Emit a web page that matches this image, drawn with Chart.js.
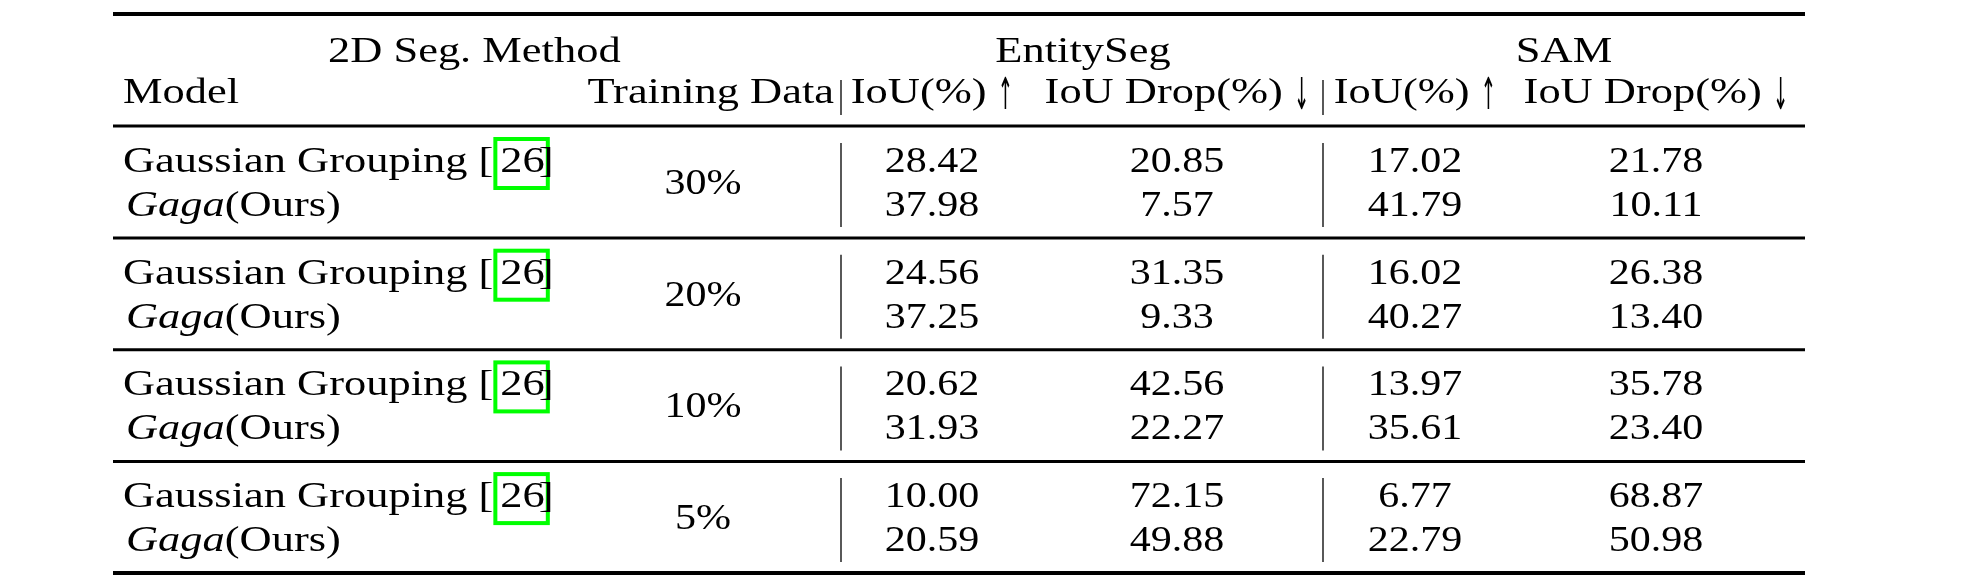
<!DOCTYPE html>
<html>
<head>
<meta charset="utf-8">
<script src="https://cdn.jsdelivr.net/npm/chart.js@4.4.1/dist/chart.umd.min.js"></script>
<style>
  html, body { margin: 0; padding: 0; background: #fff; }
  canvas { display: block; }
</style>
</head>
<body>
<canvas id="tabla" width="1983" height="586"></canvas>
<script>
// valores de la tabla
const trainingData = ['30%', '20%', '10%', '5%'];
const modelNames = ['Gaussian Grouping', 'Gaga'];
const citeRef = '26';
const groupHeaders = ['EntitySeg', 'SAM'];
const colHeaders = ['IoU(%) \u2191', 'IoU Drop(%) \u2193', 'IoU(%) \u2191', 'IoU Drop(%) \u2193'];
const entityIoU = [28.42, 37.98, 24.56, 37.25, 20.62, 31.93, 10.00, 20.59];
const entityDrop = [20.85, 7.57, 31.35, 9.33, 42.56, 22.27, 72.15, 49.88];
const samIoU = [17.02, 41.79, 16.02, 40.27, 13.97, 35.61, 6.77, 22.79];
const samDrop = [21.78, 10.11, 26.38, 13.40, 35.78, 23.40, 68.87, 50.98];

// disposicion (unidades del canvas)
const W = 1983, H = 586;
const ruleLeft = 113, ruleRight = 1805;
const modelX = 123;
const trainX = 703;
const colX = [932, 1177, 1415, 1656];
const sepX = [841, 1323];
const headY = [62, 103];
const firstRow = 172, groupStep = 111.7, rowStep = 44;
const rowY = i => firstRow + Math.floor(i / 2) * groupStep + (i % 2) * rowStep;

const SERIF = '"Liberation Serif", "Times New Roman", serif';
const ARROW_FONT = '"DejaVu Sans", sans-serif';
const FONT_SIZE = 35;
const TEXT_SX = 1.27;
const NUM_SX = 1.2;

// lineas horizontales (booktabs)
const rules = [{ y: 14, w: 4 }, { y: 126, w: 3 }];
for (let g = 0; g < trainingData.length; g++) {
    const last = g === trainingData.length - 1;
    rules.push({ y: rowY(g * 2 + 1) + 22, w: last ? 4 : 3 });
}

const datasets = [];

rules.forEach(r => {
    datasets.push({
        data: [{ x: ruleLeft, y: r.y }, { x: ruleRight, y: r.y }],
        showLine: true, borderColor: '#000', borderWidth: r.w, pointRadius: 0, clip: false
    });
});

// separadores verticales
sepX.forEach(x => {
    datasets.push({
        data: [{ x: x, y: headY[1] - 23 }, { x: x, y: headY[1] + 12 }],
        showLine: true, borderColor: '#000', borderWidth: 1.3, pointRadius: 0, clip: false
    });
    trainingData.forEach((_, g) => {
        datasets.push({
            data: [{ x: x, y: rowY(g * 2) - 29 }, { x: x, y: rowY(g * 2 + 1) + 11 }],
            showLine: true, borderColor: '#000', borderWidth: 1.3, pointRadius: 0, clip: false
        });
    });
});

// separa las flechas para dibujarlas con otra fuente
function splitArrows(text) {
    return text.split(/([\u2191\u2193])/).filter(s => s.length).map(s =>
        /[\u2191\u2193]/.test(s) ? { t: s, arrow: true } : { t: s });
}

// celdas de texto
function textSet(points, align, sx) {
    return { data: points, cellText: true, align: align, sx: sx, pointRadius: 0, showLine: false, clip: false };
}

datasets.push(textSet([{ x: 328, y: headY[0], parts: [{ t: '2D Seg. Method' }] }], 'left', TEXT_SX));
datasets.push(textSet([
    { x: 1083, y: headY[0], parts: [{ t: groupHeaders[0] }] },
    { x: 1564, y: headY[0], parts: [{ t: groupHeaders[1] }] }
], 'center', TEXT_SX));
datasets.push(textSet([{ x: modelX, y: headY[1], parts: [{ t: 'Model' }] }], 'left', TEXT_SX));
datasets.push(textSet([{ x: 834, y: headY[1], parts: [{ t: 'Training Data' }] }], 'right', TEXT_SX));
datasets.push(textSet(colHeaders.map((h, i) => ({ x: colX[i], y: headY[1], parts: splitArrows(h) })), 'center', TEXT_SX));

const modelCells = [];
trainingData.forEach((_, g) => {
    modelCells.push({ x: modelX, y: rowY(g * 2), parts: [{ t: modelNames[0] + ' [' }, { t: citeRef, box: true, gap: 7 }, { t: ']', gap: -6 }] });
    modelCells.push({ x: modelX + 3, y: rowY(g * 2 + 1), parts: [{ t: modelNames[1], italic: true }, { t: '(Ours)' }] });
});
datasets.push(textSet(modelCells, 'left', TEXT_SX));

datasets.push(textSet(trainingData.map((t, g) => ({ x: trainX, y: rowY(g * 2) + 22, parts: [{ t: t }] })), 'center', NUM_SX));

[entityIoU, entityDrop, samIoU, samDrop].forEach((serie, c) => {
    datasets.push(textSet(serie.map((v, i) => ({ x: colX[c], y: rowY(i), parts: [{ t: v.toFixed(2) }] })), 'center', NUM_SX));
});

// dibuja el texto de cada celda en la posicion que da la escala
function drawParts(ctx, x, y, parts, align, sx) {
    const fonts = parts.map(p => p.arrow ? '44px ' + ARROW_FONT : (p.italic ? 'italic ' : '') + FONT_SIZE + 'px ' + SERIF);
    const scales = parts.map(p => p.arrow ? 0.42 : sx);
    const widths = parts.map((p, i) => { ctx.font = fonts[i]; return ctx.measureText(p.t).width * scales[i]; });
    const total = widths.reduce((a, b) => a + b, 0) + parts.reduce((a, p) => a + (p.gap || 0), 0);
    let cx = align === 'left' ? x : align === 'right' ? x - total : x - total / 2;
    parts.forEach((p, i) => {
        cx += p.gap || 0;
        ctx.save();
        ctx.font = fonts[i];
        ctx.fillStyle = '#000';
        ctx.textAlign = 'left';
        ctx.textBaseline = 'alphabetic';
        ctx.translate(cx, y + (p.arrow ? 6 : 0));
        ctx.scale(scales[i], 1);
        ctx.fillText(p.t, 0, 0);
        ctx.restore();
        if (p.box) {
            ctx.save();
            ctx.strokeStyle = '#00ff00';
            ctx.lineWidth = 4;
            ctx.strokeRect(cx - 5, y - 33, widths[i] + 8, 49);
            ctx.restore();
        }
        cx += widths[i];
    });
}

const tablePlugin = {
    id: 'tableText',
    afterDatasetsDraw(chart) {
        const ctx = chart.ctx;
        chart.data.datasets.forEach((ds, di) => {
            if (!ds.cellText) return;
            const meta = chart.getDatasetMeta(di);
            meta.data.forEach((pt, i) => {
                drawParts(ctx, pt.x, pt.y, ds.data[i].parts, ds.align, ds.sx);
            });
        });
    }
};

const ctx = document.getElementById('tabla').getContext('2d');
const tabla = new Chart(ctx, {
    type: 'scatter',
    data: { datasets: datasets },
    options: {
        responsive: false,
        animation: false,
        devicePixelRatio: 1,
        events: [],
        layout: { padding: 0 },
        plugins: { legend: { display: false }, tooltip: { enabled: false } },
        scales: {
            x: { type: 'linear', min: 0, max: W, display: false },
            y: { type: 'linear', min: 0, max: H, reverse: true, display: false }
        }
    },
    plugins: [tablePlugin]
});
</script>
</body>
</html>
